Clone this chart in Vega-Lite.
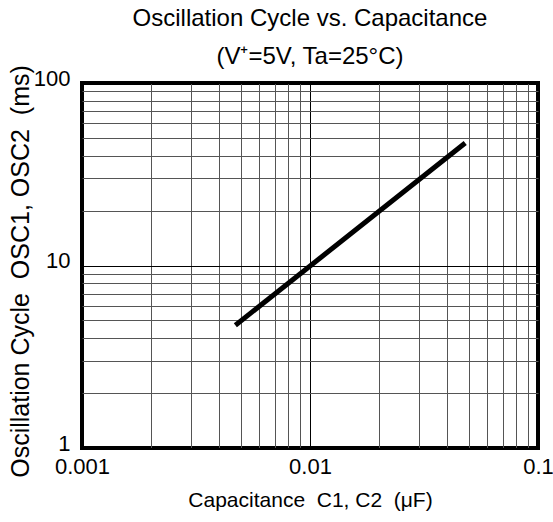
{
  "$schema": "https://vega.github.io/schema/vega-lite/v6.json",
  "autosize": "none",
  "width": 456,
  "height": 365,
  "padding": {"left": 82, "top": 83, "right": 15, "bottom": 74},
  "background": "white",
  "config": {
    "font": "Liberation Sans",
    "view": {"stroke": "black", "strokeWidth": 4},
    "axis": {"labelFont": "Liberation Sans", "titleFont": "Liberation Sans", "labelColor": "black", "titleColor": "black", "titleFontWeight": "normal"}
  },
  "title": {
    "text": ["Oscillation Cycle vs. Capacitance", "(V⁺=5V, Ta=25°C)"],
    "fontSize": 24,
    "fontWeight": "normal",
    "font": "Liberation Sans",
    "color": "black",
    "anchor": "middle",
    "lineHeight": 38,
    "offset": -4
  },
  "data": {"values": [
    {"c": 0.0048, "t": 4.8},
    {"c": 0.047, "t": 46}
  ]},
  "mark": {"type": "line", "color": "black", "strokeWidth": 5, "strokeCap": "square"},
  "encoding": {
    "x": {
      "field": "c", "type": "quantitative",
      "scale": {"type": "log", "domain": [0.001, 0.1], "nice": false},
      "axis": {
        "title": "Capacitance\u00a0 C1, C2\u00a0 (μF)",
        "titleFontSize": 21,
        "titlePadding": 12,
        "labelFontSize": 22,
        "labelPadding": 8,
        "labelFlush": false,
        "domain": false,
        "ticks": false,
        "values": [0.001,0.002,0.003,0.004,0.005,0.006,0.007,0.008,0.009,0.01,0.02,0.03,0.04,0.05,0.06,0.07,0.08,0.09,0.1],
        "labelExpr": "indexof([0.001,0.01,0.1], datum.value) >= 0 ? datum.label : ''",
        "gridColor": {"condition": {"test": "indexof([0.001,0.01,0.1], datum.value) >= 0", "value": "black"}, "value": "#555555"},
        "gridWidth": 1,
        "gridOpacity": 1
      }
    },
    "y": {
      "field": "t", "type": "quantitative",
      "scale": {"type": "log", "domain": [1, 100], "nice": false},
      "axis": {
        "title": "Oscillation Cycle\u00a0 OSC1, OSC2\u00a0 (ms)",
        "titleFontSize": 25,
        "titleX": -54,
        "titleY": 188,
        "titleBaseline": "alphabetic",
        "labelFontSize": 22,
        "labelPadding": 12,
        "labelOffset": -5,
        "labelFlush": false,
        "domain": false,
        "ticks": false,
        "values": [1,2,3,4,5,6,7,8,9,10,20,30,40,50,60,70,80,90,100],
        "labelExpr": "indexof([1,10,100], datum.value) >= 0 ? datum.label : ''",
        "gridColor": {"condition": {"test": "indexof([1,10,100], datum.value) >= 0", "value": "black"}, "value": "#555555"},
        "gridWidth": 1,
        "gridOpacity": 1
      }
    }
  }
}
